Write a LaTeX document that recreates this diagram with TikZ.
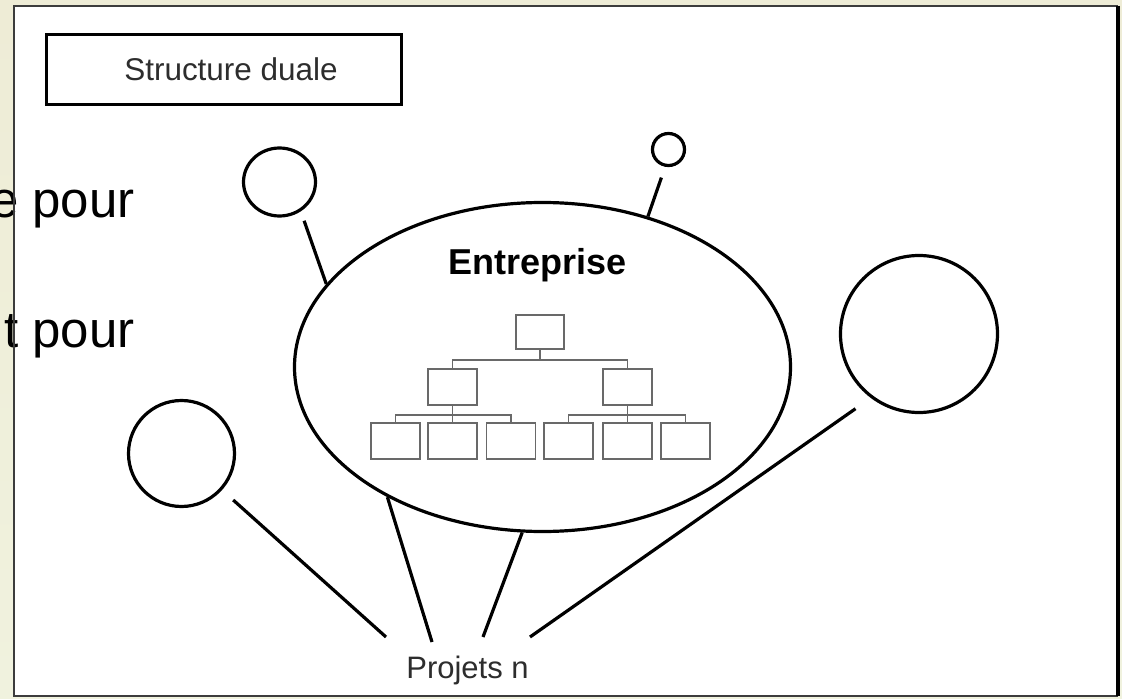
\documentclass[tikz,border=0pt]{standalone}
\usepackage{fontspec}
\setmainfont{Liberation Sans}
\usetikzlibrary{shapes.geometric}
\definecolor{bgtop}{RGB}{238,236,214}
\definecolor{bgmid}{RGB}{208,220,234}
\definecolor{bgbot}{RGB}{240,242,222}
\definecolor{framegray}{RGB}{60,60,60}
\definecolor{textgray}{RGB}{45,45,45}
\definecolor{orggray}{RGB}{105,105,105}
\begin{document}
\begin{tikzpicture}[x=0.75pt,y=-0.75pt,
  ring/.style={ellipse, draw, line width=2.4pt, inner sep=0pt},
  spoke/.style={line width=2.4pt},
  orgbox/.style={draw=orggray, line width=1.25pt, inner sep=0pt,
                 minimum width=36.75pt, minimum height=27pt},
  orgline/.style={draw=orggray, line width=1.25pt},
  slidetext/.style={anchor=base east, font=\fontsize{38.25pt}{40pt}\selectfont, inner sep=0pt},
]
% page and slide background
\useasboundingbox (0,0) rectangle (1122,699);
\shade[top color=bgtop, middle color=bgmid, bottom color=bgbot] (0,0) rectangle (1122,699);
\fill[white] (14,6) rectangle (1118,696);

% slide text running under the frame
\node[slidetext] (t1) at (135,217) {e pour};
\node[slidetext] (t2) at (135,347) {t pour};

% frame, with a darker right edge
\draw[framegray, line width=1.8pt] (1118,6) -- (14,6) -- (14,696) -- (1118,696);
\draw[black, line width=2.6pt] (1118,6) -- (1118,696);

% title box
\node[draw, line width=2pt, minimum width=266.6pt, minimum height=52.9pt, inner sep=0pt,
      text=textgray, font=\fontsize{23.6pt}{26pt}\selectfont]
  (title) at (224,69.5) {\hspace{10.5pt}Structure duale};

% the company
\node[ring, minimum width=372pt, minimum height=246.75pt] (ent) at (542.5,367) {};
\node[anchor=base, inner sep=0pt, font=\fontsize{27pt}{30pt}\selectfont\bfseries]
  (entlabel) at (537.5,274) {Entreprise};

% org chart inside the company
\node[orgbox, minimum width=36pt, minimum height=25.5pt] (top) at (540,332) {};
\node[orgbox] (m1) at (452.5,387) {};
\node[orgbox] (m2) at (627.5,387) {};
\foreach \i/\x in {1/395.5, 2/452.5, 3/511, 4/568.5, 5/627.5, 6/685.5}
  \node[orgbox] (b\i) at (\x,441) {};
\draw[orgline] (top.south) -- ++(0,10) -| (m1.north);
\draw[orgline] (top.south) -- ++(0,10) -| (m2.north);
\foreach \i in {1,2,3}
  \draw[orgline] (m1.south) -- ++(0,9) -| (b\i.north);
\foreach \i in {4,5,6}
  \draw[orgline] (m2.south) -- ++(0,9) -| (b\i.north);

% project circles
\node[ring, minimum width=54pt, minimum height=51pt] (c1) at (279.5,182) {};
\node[ring, minimum width=24pt, minimum height=24pt] (c2) at (668.5,149.5) {};
\node[ring, minimum width=117.75pt, minimum height=117.75pt] (c3) at (919,334) {};
\node[ring, minimum width=79.5pt, minimum height=79.5pt] (c4) at (181.5,453.5) {};

% projects label and the ends of its spokes
\node[anchor=base, inner sep=0pt, text=textgray, font=\fontsize{23.25pt}{26pt}\selectfont]
  (proj) at (467.5,678) {Projets n};
\coordinate (p1) at (386,637);
\coordinate (p2) at (432,642);
\coordinate (p3) at (483,637);
\coordinate (p4) at (530,637);

% links
\draw[spoke, shorten <=7.5pt] (c1.-54) -- (ent.159.3);
\draw[spoke, shorten <=8.6pt] (c2.259) -- (ent.55.4);
\draw[spoke, shorten <=14pt] (c3.233.25) -- (p4);
\draw[spoke, shorten <=11.2pt] (c4.-42.1) -- (p1);
\draw[spoke] (ent.220.9) -- (p2);
\draw[spoke] (ent.263.3) -- (p3);
\end{tikzpicture}
\end{document}
